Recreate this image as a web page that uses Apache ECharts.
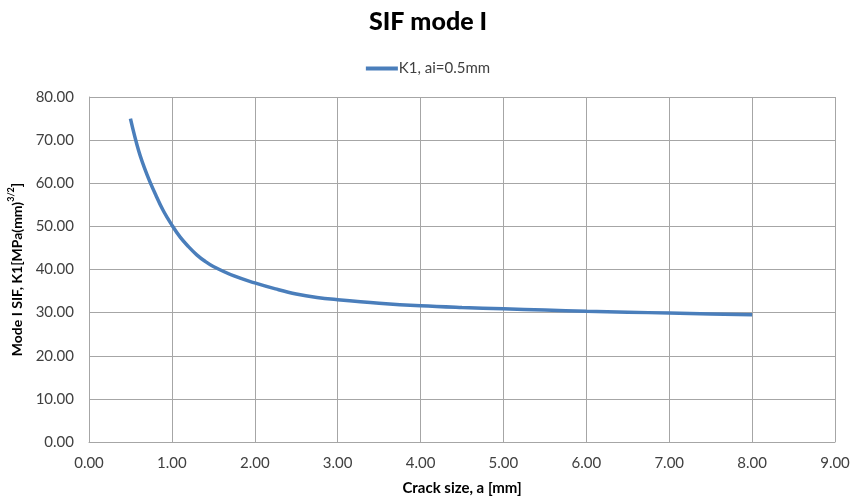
<!DOCTYPE html>
<html><head><meta charset="utf-8">
<script src="https://cdn.jsdelivr.net/npm/echarts@6/dist/echarts.min.js"></script>
<style>html,body{margin:0;padding:0;background:#fff}#c{width:856px;height:503px}</style>
</head><body><div id="c"></div>
<script>
var crackSize = [0.5,0.6,0.7,0.8,0.9,1.0,1.1,1.2,1.3,1.4,1.5,1.75,2.0,2.25,2.5,2.75,3.0,3.5,4.0,4.5,5.0,5.5,6.0,6.5,7.0,7.5,8.0];
var k1Values = [75.0,67.5,62.0,57.5,53.5,50.3,47.5,45.3,43.4,41.9,40.7,38.5,36.9,35.5,34.3,33.5,33.0,32.2,31.6,31.2,30.9,30.6,30.3,30.1,29.9,29.7,29.5];
var seriesName = 'K1, ai=0.5mm';
var titleText = 'SIF mode I';
var xAxisName = 'Crack size, a [mm]';

var chart = echarts.init(document.getElementById('c'));
var font = 'Lato, "Open Sans", sans-serif';
var pts = crackSize.map(function(x,i){return [x,k1Values[i]];});
chart.setOption({
  animation:false,
  textStyle:{fontFamily:font},
  title:{text:titleText,left:'center',top:4,textStyle:{fontFamily:font,fontSize:25,fontWeight:900,color:'#000'}},
  legend:{top:56,left:'center',itemWidth:32,itemHeight:4,itemGap:0,
    data:[{name:seriesName,icon:'rect'}],
    textStyle:{fontFamily:font,fontSize:15,color:'#404040',padding:[0,0,0,-4]}},
  grid:{left:89,right:21,top:97,bottom:61,containLabel:false,outerBoundsMode:'none'},
  xAxis:{type:'value',min:0,max:9,interval:1,
    name:xAxisName,nameLocation:'middle',nameGap:39,
    nameTextStyle:{fontFamily:font,fontSize:15,fontWeight:'bold',color:'#000'},
    axisLine:{show:true,lineStyle:{color:'#a6a6a6',width:1}},
    axisTick:{show:false},
    axisLabel:{formatter:function(v){return v.toFixed(2);},color:'#404040',fontSize:15,margin:14},
    splitLine:{show:true,lineStyle:{color:'#a6a6a6',width:1}}},
  yAxis:{type:'value',min:0,max:80,interval:10,
    name:'{n|Mode I SIF, K1[MPa(mm)}{s|3/2}{n|]}',nameLocation:'middle',nameGap:64,
    nameTextStyle:{rich:{n:{fontFamily:font,fontSize:14,fontWeight:'bold',color:'#000',lineHeight:18,verticalAlign:'bottom'},
                         s:{fontFamily:font,fontSize:9,fontWeight:'bold',color:'#000',lineHeight:18,verticalAlign:'top',padding:[0,0,7,0]}}},
    axisLine:{show:true,lineStyle:{color:'#a6a6a6',width:1}},
    axisTick:{show:false},
    axisLabel:{formatter:function(v){return v.toFixed(2);},color:'#404040',fontSize:15,margin:15},
    splitLine:{show:true,lineStyle:{color:'#a6a6a6',width:1}}},
  series:[{name:seriesName,type:'line',data:pts,smooth:0.4,showSymbol:false,
    lineStyle:{color:'#4a7ebb',width:3.5},itemStyle:{color:'#4a7ebb'}}]
});
</script></body></html>
